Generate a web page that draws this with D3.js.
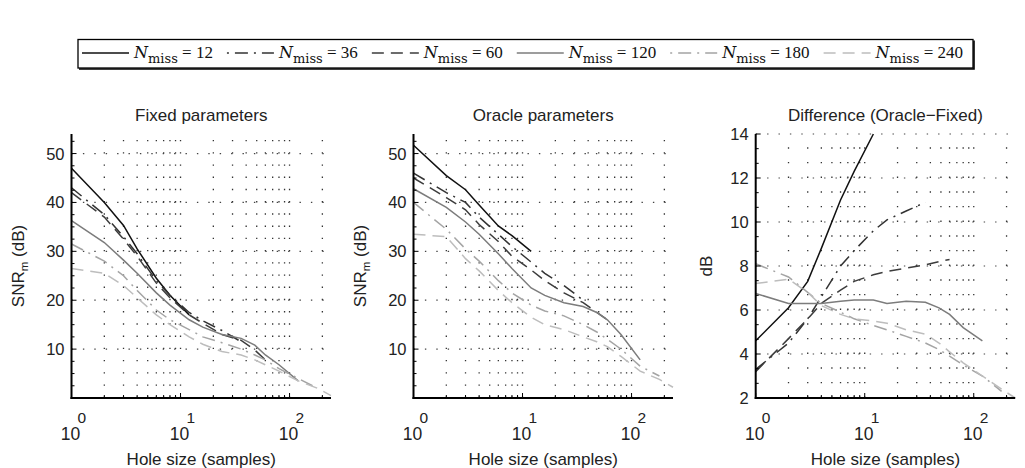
<!DOCTYPE html>
<html>
<head>
<meta charset="utf-8">
<script src="https://cdn.jsdelivr.net/npm/d3@7/dist/d3.min.js"></script>
<style>
  body { margin: 0; background: #fff; }
  svg { display: block; font-family: "Liberation Sans", Arial, sans-serif; }
</style>
</head>
<body>
<svg id="chart" width="1025" height="468"></svg>
<script>
// hole sizes (samples) at which each curve is read; a curve stops at its N_miss
const holeSizes = [1, 2, 3, 4, 6, 8, 12, 16, 24, 36, 48, 60, 80, 120, 180, 240];
const nMiss = [12, 36, 60, 120, 180, 240];

// Fixed parameters, SNR_m (dB)
const fixed12 = [47, 40, 35.3, 30.5, 24.5, 21, 17];
const fixed36 = [43, 37.5, 33, 29.5, 24, 21, 17.5, 15.8, 13.8, 11.5];
const fixed60 = [42, 37, 32.5, 29, 23.5, 20.5, 17, 15.3, 13, 11.8, 9.8, 7.8];
const fixed120 = [36.3, 31.8, 28.2, 25.5, 21.5, 19, 16, 14.5, 13, 12.2, 10.8, 8.8, 6.8, 3.5];
const fixed180 = [31.5, 28, 25, 22, 18, 16, 14, 12.5, 11.3, 10, 8.8, 7.8, 6, 4, 2];
const fixed240 = [26.5, 25.5, 23, 20.5, 17, 15, 12.5, 11, 9.5, 8.8, 7.8, 6.8, 5.5, 3.5, 2, 0.5];

// Oracle parameters, SNR_m (dB)
const oracle12 = [51.7, 45.5, 42.6, 39.5, 35.2, 33.2, 30];
const oracle36 = [46, 42, 40, 37, 33.5, 31, 27.8, 25.5, 23, 20];
const oracle60 = [45, 41, 38.5, 35.5, 32, 29, 26.2, 24, 21.5, 19.5, 17.5, 16];
const oracle120 = [42.8, 39, 36, 33.5, 29.5, 26.5, 22.5, 21, 19.5, 18.7, 17.5, 16, 13, 7.8];
const oracle180 = [40, 34.5, 30.5, 28, 24, 21.5, 19, 17.8, 16.8, 15, 13.5, 12, 10, 6.5, 4.5];
const oracle240 = [33.5, 33, 28.5, 26, 22, 19.5, 16.5, 15, 14, 12.5, 11.5, 10.5, 8.5, 5.5, 3.8, 2.2];

// Difference (Oracle-Fixed), dB
const diff12 = [4.6, 6.1, 7.3, 8.8, 11, 12.3, 14];
const diff36 = [3.3, 4.5, 5.6, 6.6, 8, 8.7, 9.6, 10.1, 10.5, 10.9];
const diff60 = [3.2, 4.7, 5.6, 6.3, 6.9, 7.3, 7.6, 7.75, 7.9, 8.05, 8.2, 8.3];
const diff120 = [6.75, 6.3, 6.3, 6.3, 6.4, 6.45, 6.45, 6.3, 6.4, 6.35, 6.1, 5.8, 5.2, 4.6];
const diff180 = [8.1, 7.5, 6.8, 6.3, 5.9, 5.6, 5.3, 5.1, 4.8, 4.5, 4.2, 3.9, 3.5, 3.0, 2.3];
const diff240 = [7.2, 7.4, 6.8, 6.2, 5.8, 5.6, 5.5, 5.4, 5.1, 4.9, 4.5, 4.1, 3.6, 3.0, 2.4, 2.0];

const snrTicks = [10, 20, 30, 40, 50];
const diffTicks = [2, 4, 6, 8, 10, 12, 14];
const xTickExps = [0, 1, 2];

const styles = [
  { color: "#111", dash: null, legendOffset: 0 },
  { color: "#333", dash: "13,6,2,6", legendOffset: 19 },
  { color: "#3c3c3c", dash: "12,7", legendOffset: 0 },
  { color: "#7c7c7c", dash: null, legendOffset: 0 },
  { color: "#a4a4a4", dash: "13,6,2,6", legendOffset: 19 },
  { color: "#bdbdbd", dash: "12,7", legendOffset: 0 },
];

const svg = d3.select("#chart");
const plotTop = 134, plotBottom = 398, plotW = 259.5;

const panels = [
  { left: 71.5, title: "Fixed parameters", snr: true, yDomain: [0, 54], yTicks: snrTicks, minor: 2.5,
    series: [fixed12, fixed36, fixed60, fixed120, fixed180, fixed240], labelOff: 48 },
  { left: 413.5, title: "Oracle parameters", snr: true, yDomain: [0, 54], yTicks: snrTicks, minor: 2.5,
    series: [oracle12, oracle36, oracle60, oracle120, oracle180, oracle240], labelOff: 48 },
  { left: 755.7, title: "Difference (Oracle\u2212Fixed)", snr: false, yDomain: [2, 14], yTicks: diffTicks, minor: 2 / 3,
    series: [diff12, diff36, diff60, diff120, diff180, diff240], labelOff: 44 },
];

panels.forEach(p => {
  const x = d3.scaleLog().domain([1, 240]).range([p.left, p.left + plotW]);
  const y = d3.scaleLinear().domain(p.yDomain).range([plotBottom, plotTop]);
  const g = svg.append("g");

  const xMinor = [];
  for (let e = 0; e <= 2; e++) {
    for (let m = 1; m <= 9; m++) {
      const v = m * Math.pow(10, e);
      if (v > 1 && v <= 240) xMinor.push(v);
    }
  }
  const yMinor = d3.range(p.yDomain[0], p.yDomain[1] + 1e-6, p.minor);

  // dotted grid
  const period = y(p.yDomain[0]) - y(p.yDomain[0] + p.minor);
  g.append("g").selectAll("line").data(xMinor).enter().append("line")
    .attr("x1", d => x(d)).attr("x2", d => x(d))
    .attr("y1", plotBottom).attr("y2", plotTop)
    .attr("stroke", "#333").attr("stroke-width", 1.3)
    .attr("stroke-dasharray", `1.4,${period - 1.4}`);
  g.append("g").selectAll("line").data(p.yTicks.filter(t => t > p.yDomain[0])).enter().append("line")
    .attr("x1", p.left).attr("x2", p.left + plotW)
    .attr("y1", d => y(d)).attr("y2", d => y(d))
    .attr("stroke", "#444").attr("stroke-width", 1.2)
    .attr("stroke-dasharray", "1.4,10");

  // curves
  const line = d3.line().x(d => x(d[0])).y(d => y(d[1]));
  p.series.forEach((vals, i) => {
    const pts = vals.map((v, j) => [holeSizes[j], v]);
    g.append("path")
      .attr("d", line(pts))
      .attr("fill", "none")
      .attr("stroke", styles[i].color)
      .attr("stroke-width", 1.5)
      .attr("stroke-dasharray", styles[i].dash);
  });

  // axes
  g.append("line").attr("x1", p.left).attr("x2", p.left).attr("y1", plotTop).attr("y2", plotBottom + 1)
    .attr("stroke", "#000").attr("stroke-width", 2);
  g.append("line").attr("x1", p.left - 1).attr("x2", p.left + plotW).attr("y1", plotBottom).attr("y2", plotBottom)
    .attr("stroke", "#000").attr("stroke-width", 2);

  // y ticks (inward), major + minor
  g.append("g").selectAll("line").data(yMinor).enter().append("line")
    .attr("x1", p.left).attr("x2", d => p.left + (p.yTicks.some(t => Math.abs(t - d) < 1e-6) ? 5 : 3))
    .attr("y1", d => y(d)).attr("y2", d => y(d))
    .attr("stroke", "#000").attr("stroke-width", 1);
  // x ticks (inward)
  g.append("g").selectAll("line").data(xMinor.concat([1])).enter().append("line")
    .attr("x1", d => x(d)).attr("x2", d => x(d))
    .attr("y1", plotBottom).attr("y2", d => plotBottom - ([1, 10, 100].includes(d) ? 5 : 3))
    .attr("stroke", "#000").attr("stroke-width", 1);

  // y tick labels
  g.append("g").selectAll("text").data(p.yTicks).enter().append("text")
    .attr("x", p.left - 7).attr("y", d => y(d) + 6)
    .attr("text-anchor", "end").attr("font-size", 16.5).attr("fill", "#222")
    .text(d => d);

  // x tick labels 10^e
  const xt = g.append("g").selectAll("g").data(xTickExps).enter().append("g");
  xt.append("text")
    .attr("x", d => x(Math.pow(10, d)) - 1).attr("y", 440)
    .attr("text-anchor", "middle").attr("font-size", 17.5).attr("fill", "#222")
    .text("10");
  xt.append("text")
    .attr("x", d => x(Math.pow(10, d)) + 6).attr("y", 423)
    .attr("font-size", 15.5).attr("fill", "#222")
    .text(d => d);

  // title and axis labels
  const cx = p.left + plotW / 2;
  g.append("text").attr("x", cx).attr("y", 121).attr("text-anchor", "middle")
    .attr("font-size", 17).attr("fill", "#222").text(p.title);
  g.append("text").attr("x", cx).attr("y", 465).attr("text-anchor", "middle")
    .attr("font-size", 17).attr("fill", "#222").text("Hole size (samples)");

  const yl = g.append("text")
    .attr("transform", `translate(${p.left - p.labelOff},${(plotTop + plotBottom) / 2}) rotate(-90)`)
    .attr("text-anchor", "middle").attr("font-size", 17).attr("fill", "#222");
  if (p.snr) {
    yl.append("tspan").text("SNR");
    yl.append("tspan").attr("dy", 4).attr("font-size", 11.5).text("m");
    yl.append("tspan").attr("dy", -4).text(" (dB)");
  } else {
    yl.text("dB");
  }
});

// legend
const lg = svg.append("g");
lg.append("rect").attr("x", 78).attr("y", 39.5).attr("width", 895).attr("height", 28.5)
  .attr("fill", "#fff").attr("stroke", "#000").attr("stroke-width", 1.3);
lg.append("path").attr("d", "M79,69 H974 V40.5")
  .attr("fill", "none").attr("stroke", "#000").attr("stroke-width", 1.6);

let lx = 82;
nMiss.forEach((n, i) => {
  lg.append("line").attr("x1", lx).attr("x2", lx + 47).attr("y1", 53).attr("y2", 53)
    .attr("stroke", styles[i].color).attr("stroke-width", 1.4)
    .attr("stroke-dasharray", styles[i].dash)
    .attr("stroke-dashoffset", styles[i].legendOffset);
  const t = lg.append("text").attr("x", lx + 52).attr("y", 57.5)
    .attr("font-family", "'DejaVu Serif', serif").attr("font-size", 16).attr("fill", "#111");
  t.append("tspan").attr("font-style", "italic").text("N");
  t.append("tspan").attr("dy", 5).attr("font-size", 13).text("miss");
  t.append("tspan").attr("dy", -5).attr("font-family", "'Liberation Serif', serif").attr("font-size", 17).text(" = " + n);
  lx += 52 + t.node().getComputedTextLength() + 14;
});
</script>
</body>
</html>
